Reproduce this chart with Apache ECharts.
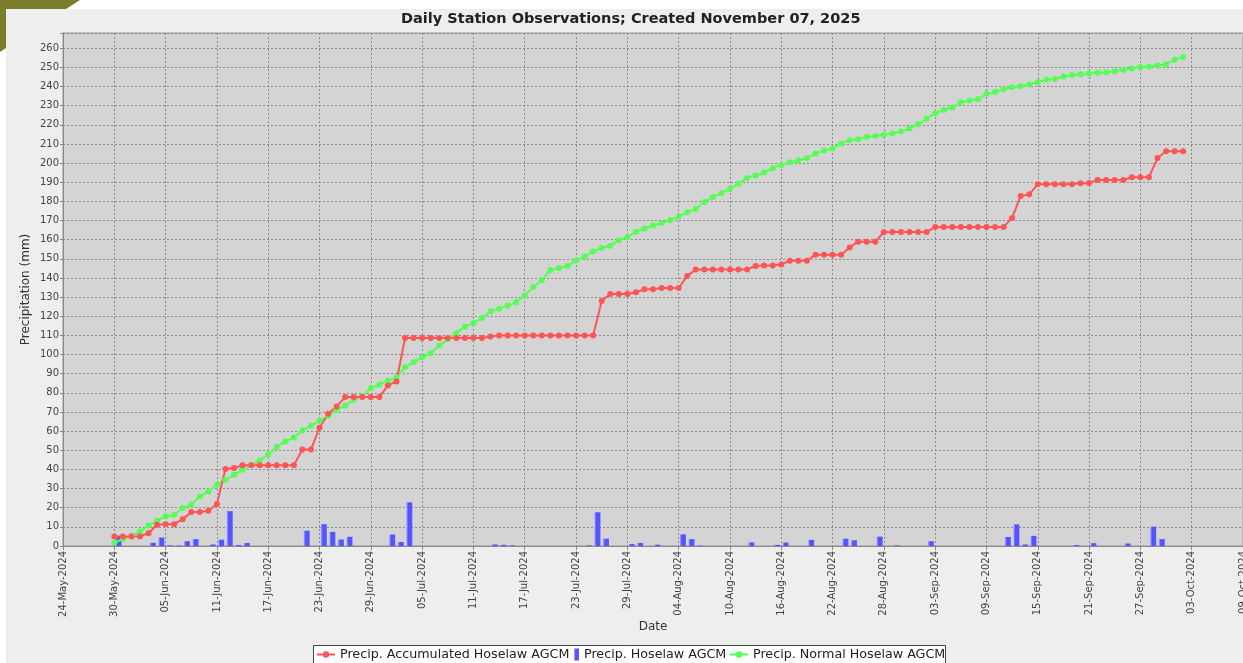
<!DOCTYPE html>
<html>
<head>
<meta charset="utf-8">
<title>Daily Station Observations</title>
<script src="https://cdn.jsdelivr.net/npm/echarts@6/dist/echarts.min.js"></script>
<style>
  html, body { margin: 0; padding: 0; background: #fff; }
  #chart { width: 1243px; height: 663px; }
</style>
</head>
<body>
<div id="chart"></div>
<script>
// axis starts 24-May-2024, data starts 30-May-2024 (one value per day)
var axisStart = Date.UTC(2024, 4, 24);
var dataStart = Date.UTC(2024, 4, 30);
var monthNames = ['Jan','Feb','Mar','Apr','May','Jun','Jul','Aug','Sep','Oct','Nov','Dec'];

// Precip. Accumulated Hoselaw AGCM (mm)
var accumulated = [
  5.0, 5.0,
  5.0, 5.0, 6.7, 11.1, 11.3, 11.4, 14.0, 17.7, 17.7, 18.4,
  21.9, 40.2, 40.7, 42.2, 42.2, 42.2, 42.2, 42.2, 42.2, 42.2,
  50.4, 50.4, 61.8, 69.1, 72.9, 77.8, 77.8, 77.8, 77.8, 77.8,
  83.9, 86.0, 108.6, 108.6, 108.6, 108.6, 108.6, 108.6, 108.6, 108.6,
  108.6, 108.6, 109.5, 110.0, 110.0, 110.0, 110.0, 110.0, 110.0, 110.0,
  110.0, 110.0, 110.0, 110.0, 110.0, 128.0, 131.6, 131.6, 131.6, 132.5, 134.1,
  134.1, 134.8, 134.8, 134.8, 141.0, 144.5, 144.5, 144.5, 144.5, 144.5,
  144.5, 144.5, 146.3, 146.5, 146.5, 147.0, 149.0, 149.0, 149.0, 152.2,
  152.2, 152.2, 152.2, 156.0, 159.0, 159.0, 159.0, 163.9, 164.0, 164.0, 164.0,
  164.0, 164.0, 166.7, 166.7, 166.7, 166.7, 166.7, 166.7, 166.7, 166.7,
  166.7, 171.4, 182.9, 183.7, 189.0, 189.0, 189.0, 189.0, 189.0, 189.5,
  189.7, 191.2, 191.2, 191.2, 191.2, 192.6, 192.6, 192.6, 202.7, 206.2,
  206.2, 206.2
];

// Precip. Hoselaw AGCM, daily (mm)
var daily = [
  4.8, 0,
  0, 0, 1.7, 4.4, 0.3, 0.2, 2.5, 3.6, 0, 0.8,
  3.3, 18.2, 0.5, 1.6, 0, 0, 0, 0, 0, 0,
  8.0, 0, 11.4, 7.4, 3.4, 4.8, 0, 0, 0, 0,
  6.0, 2.1, 22.8, 0, 0, 0, 0, 0, 0, 0,
  0, 0, 0.8, 0.6, 0.3, 0, 0, 0, 0, 0,
  0, 0, 0, 0.3, 17.6, 3.8, 0, 0, 1.0, 1.6,
  0, 0.7, 0, 0, 6.1, 3.6, 0.2, 0, 0, 0,
  0, 0, 1.9, 0, 0, 0.6, 1.8, 0, 0, 3.2,
  0, 0, 0, 3.8, 3.0, 0, 0, 4.9, 0, 0.3, 0,
  0, 0, 2.5, 0, 0, 0, 0, 0, 0, 0,
  0, 4.7, 11.3, 0.8, 5.3, 0, 0, 0, 0, 0.5,
  0, 1.5, 0, 0, 0, 1.3, 0, 0, 10.1, 3.6,
  0, 0
];

// Precip. Normal Hoselaw AGCM (mm)
var normal = [
  1.7, 3.6,
  5.2, 7.6, 10.7, 13.2, 15.4, 16.3, 19.8, 21.7, 25.9, 28.5,
  32.0, 34.6, 37.2, 39.8, 42.2, 44.7, 47.8, 51.9, 54.6, 56.7,
  60.4, 62.8, 65.4, 67.9, 71.0, 73.3, 76.5, 78.3, 82.4, 84.4,
  86.4, 88.0, 93.4, 96.1, 98.6, 100.7, 104.7, 108.0, 111.2, 114.6,
  116.5, 119.1, 122.7, 124.0, 125.6, 127.3, 130.9, 135.3, 138.9, 144.2,
  145.2, 146.3, 149.1, 151.3, 153.9, 155.7, 156.9, 159.7, 161.4, 164.2, 165.8,
  167.4, 168.8, 170.2, 172.1, 174.3, 176.1, 179.7, 182.3, 184.3, 186.5,
  189.3, 192.3, 193.5, 195.1, 197.4, 199.1, 200.5, 201.4, 202.6, 205.0,
  206.6, 207.6, 210.2, 212.0, 212.5, 213.7, 214.2, 214.7, 215.5, 216.5, 218.1,
  220.3, 223.3, 226.1, 227.8, 229.1, 231.8, 232.7, 233.4, 236.2, 237.2,
  238.6, 239.7, 240.2, 241.1, 242.4, 243.7, 244.0, 245.3, 246.1, 246.5,
  246.8, 247.2, 247.5, 248.0, 248.7, 249.4, 250.3, 250.5, 251.0, 251.7,
  254.0, 255.4
];

var nameAccum = 'Precip. Accumulated Hoselaw AGCM';
var nameDaily = 'Precip. Hoselaw AGCM';
var nameNormal = 'Precip. Normal Hoselaw AGCM';

// x values are days since axisStart
var firstDay = Math.round((dataStart - axisStart) / 864e5);
function toPoints(arr, shift) {
  return arr.map(function (v, i) { return [firstDay + i + shift, v]; });
}

function pad(n) { return n < 10 ? '0' + n : '' + n; }
function dayLabel(v) {
  if (v % 6 !== 0) return '';
  var d = new Date(axisStart + v * 864e5);
  return pad(d.getUTCDate()) + '-' + monthNames[d.getUTCMonth()] + '-' + d.getUTCFullYear();
}

var myChart = echarts.init(document.getElementById('chart'));
var gridLine = { show: true, lineStyle: { color: '#8a8a8a', type: [2, 2], width: 1 } };
var legendText = { fontSize: 12.7, color: '#222' };

// one legend per entry so each icon can have its own width; the box is drawn below
function legendItem(item, left, w, h) {
  return { data: [item], left: left, top: 648, padding: 0, itemWidth: w, itemHeight: h, textStyle: legendText };
}

var option = {
  backgroundColor: '#eeeeee',
  animation: false,
  textStyle: { fontFamily: 'DejaVu Sans' },
  graphic: [
    // page decoration round the panel (white margin, olive corner)
    { type: 'rect', shape: { x: 0, y: 0, width: 1243, height: 9 }, style: { fill: '#ffffff' } },
    { type: 'rect', shape: { x: 0, y: 0, width: 6, height: 663 }, style: { fill: '#ffffff' } },
    { type: 'polygon', shape: { points: [[0, 0], [80, 0], [66, 9], [0, 9]] }, style: { fill: '#7a7d2c' } },
    { type: 'polygon', shape: { points: [[0, 0], [6, 0], [6, 48], [0, 52]] }, style: { fill: '#7a7d2c' } },
    // legend frame
    { type: 'rect', shape: { x: 313.5, y: 645.5, width: 632, height: 30 }, style: { fill: '#ffffff', stroke: '#444', lineWidth: 1 } }
  ],
  title: {
    text: 'Daily Station Observations; Created November 07, 2025',
    left: 401,
    top: 12,
    padding: 0,
    textStyle: { fontSize: 14.5, fontWeight: 'bold', color: '#222', fontFamily: 'DejaVu Sans' }
  },
  legend: [
    legendItem(nameAccum, 316, 18, 8),
    legendItem({ name: nameDaily, icon: 'rect' }, 574, 5, 12),
    legendItem(nameNormal, 729, 18, 8)
  ],
  grid: {
    left: 63,
    top: 33,
    right: 0,
    bottom: 117,
    outerBoundsMode: 'none',
    show: true,
    backgroundColor: '#d4d4d4',
    borderColor: '#9a9a9a',
    borderWidth: 1
  },
  xAxis: {
    type: 'value',
    min: 0,
    max: 138,
    interval: 6,
    name: 'Date',
    nameLocation: 'middle',
    nameGap: 75,
    nameMoveOverlap: false,
    nameTextStyle: { fontSize: 12, color: '#333' },
    axisLine: { show: true, lineStyle: { color: '#888' } },
    axisTick: { show: true, length: 4, lineStyle: { color: '#888' } },
    axisLabel: { rotate: 90, fontSize: 10, color: '#444', margin: 5, formatter: dayLabel },
    splitLine: gridLine
  },
  yAxis: {
    type: 'value',
    min: 0,
    max: 268,
    interval: 10,
    name: 'Precipitation (mm)',
    nameLocation: 'middle',
    nameRotate: 90,
    nameGap: 31,
    nameMoveOverlap: false,
    nameTextStyle: { fontSize: 12, color: '#333' },
    axisLine: { show: true, lineStyle: { color: '#888' } },
    axisTick: { show: true, length: 3, lineStyle: { color: '#888' } },
    axisLabel: {
      fontSize: 10, color: '#444', margin: 4,
      formatter: function (v) { return v % 10 === 0 ? '' + v : ''; }
    },
    splitLine: gridLine
  },
  series: [
    {
      name: nameDaily,
      type: 'bar',
      barWidth: 6,
      data: toPoints(daily, 0.5),
      itemStyle: {
        color: new echarts.graphic.LinearGradient(0, 0, 1, 0, [
          { offset: 0, color: '#a8a8ff' },
          { offset: 0.35, color: '#5050ff' },
          { offset: 1, color: '#5a5aff' }
        ])
      }
    },
    {
      name: nameNormal,
      type: 'line',
      data: toPoints(normal, 0),
      symbol: 'circle',
      symbolSize: 6,
      lineStyle: { color: '#55ff55', width: 2 },
      itemStyle: { color: '#55ff55' }
    },
    {
      name: nameAccum,
      type: 'line',
      data: toPoints(accumulated, 0),
      symbol: 'circle',
      symbolSize: 6,
      lineStyle: { color: '#ff5555', width: 2 },
      itemStyle: { color: '#ff5555' }
    }
  ]
};

myChart.setOption(option, true);
</script>
</body>
</html>
